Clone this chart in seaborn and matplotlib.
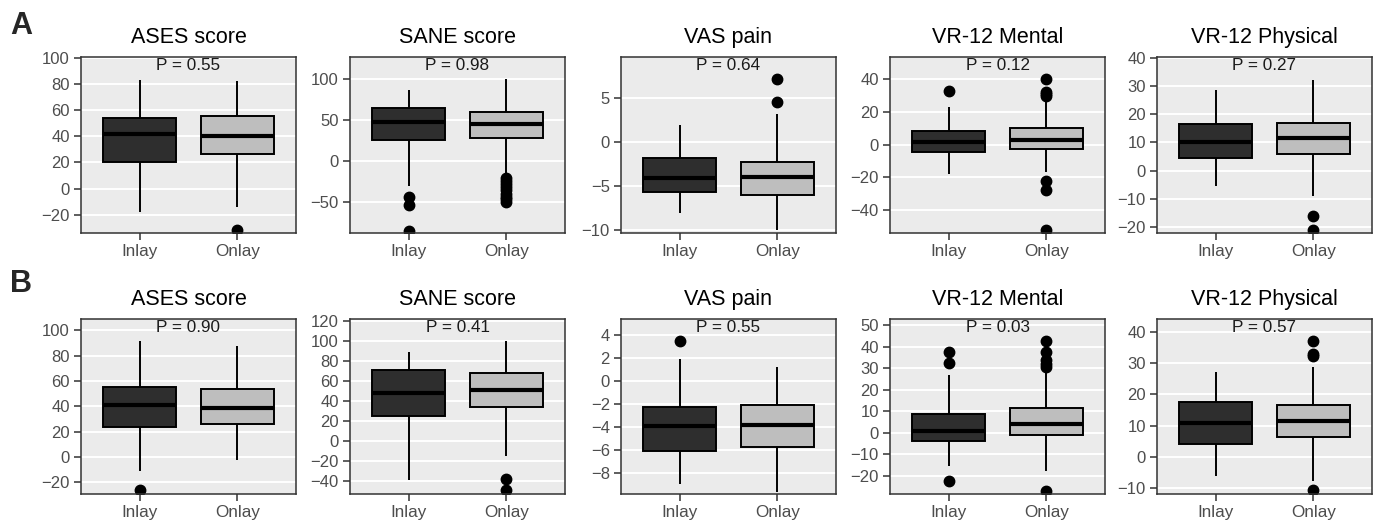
import numpy as np
import pandas as pd
import matplotlib
matplotlib.use("Agg")
import matplotlib.pyplot as plt
import seaborn as sns

# ---------------- data ----------------
metrics = ["ASES score", "SANE score", "VAS pain", "VR-12 Mental", "VR-12 Physical"]
groups = ["Inlay", "Onlay"]
row_labels = ["A", "B"]

# per metric: [Inlay, Onlay]
a_p_values = ["0.55", "0.98", "0.64", "0.12", "0.27"]
a_whisker_low = [[-18, -14], [-30, -17], [-8.0, -10.0], [-18, -17], [-5.5, -9.0]]
a_q1 = [[20, 26.4], [25, 28], [-5.7, -6.0], [-4.5, -2.5], [4.5, 6.0]]
a_median = [[41.5, 40], [47, 45], [-4.1, -4.0], [1.5, 3.0], [10.2, 11.7]]
a_q3 = [[53.6, 55.4], [65, 60], [-1.8, -2.3], [8.5, 10.2], [16.5, 17.0]]
a_whisker_high = [[83, 82.5], [87, 100], [1.9, 3.2], [23, 27], [28.7, 32.2]]
a_outliers = [
    [[], [-32]],
    [[-44, -54, -85], [-21, -24, -28, -32, -36, -40, -44, -47, -50]],
    [[], [4.5, 7.1]],
    [[32.8], [-22, -28, -52, 30, 31, 32, 40]],
    [[], [-16, -21]],
]
a_ylim = [(-34, 100.5), (-88, 127), (-10.3, 9.6), (-54, 53.6), (-22, 40.2)]
a_yticks = [
    [-20, 0, 20, 40, 60, 80, 100],
    [-50, 0, 50, 100],
    [-10, -5, 0, 5],
    [-40, -20, 0, 20, 40],
    [-20, -10, 0, 10, 20, 30, 40],
]

b_p_values = ["0.90", "0.41", "0.55", "0.03", "0.57"]
b_whisker_low = [[-11, -2.6], [-39, -15], [-8.97, -9.6], [-15.4, -17.7], [-6.0, -7.8]]
b_q1 = [[23.8, 25.9], [24.6, 33.6], [-6.05, -5.71], [-3.6, -0.8], [4.3, 6.3]]
b_median = [[40.8, 38.7], [48, 51], [-3.91, -3.83], [0.8, 4.3], [10.8, 11.6]]
b_q3 = [[55.2, 53.9], [71, 67.5], [-2.25, -2.06], [8.8, 11.5], [17.4, 16.6]]
b_whisker_high = [[91.5, 87.3], [88.5, 99.7], [1.94, 1.23], [26.9, 27.7], [27.2, 28.7]]
b_outliers = [
    [[-26.5], []],
    [[], [-38, -49.5]],
    [[3.46], []],
    [[-22.6, 32.6, 37.5], [-26.9, 30.5, 32, 34, 37.5, 42.8]],
    [[], [-10.5, 32.2, 32.8, 37]],
]
b_ylim = [(-29.4, 109), (-53, 121.6), (-9.8, 5.4), (-28.5, 53), (-11.8, 44)]
b_yticks = [
    [-20, 0, 20, 40, 60, 80, 100],
    [-40, -20, 0, 20, 40, 60, 80, 100, 120],
    [-8, -6, -4, -2, 0, 2, 4],
    [-20, -10, 0, 10, 20, 30, 40, 50],
    [-10, 0, 10, 20, 30, 40],
]

group_colors = {"Inlay": "#2E2E2E", "Onlay": "#BEBEBE"}


def sample_from_summary(lo, q1, med, q3, hi, outs):
    """Build a sample whose quartiles / whiskers / outliers equal the read summary."""
    low_out = sorted(v for v in outs if v < q1)
    high_out = sorted(v for v in outs if v > q3)
    m = 1 + max(len(low_out), len(high_out), 1)
    lower = low_out + [lo] + [q1] * (m - 1 - len(low_out))
    upper = [hi] + high_out + [q3] * (m - 1 - len(high_out))
    return lower + [q1] + [med] * (m - 1) + [med] + [q3] * (m - 1) + [q3] + upper


def build_frame(lo_l, q1_l, med_l, q3_l, hi_l, out_l, k):
    rows = []
    for g_i, g in enumerate(groups):
        vals = sample_from_summary(lo_l[k][g_i], q1_l[k][g_i], med_l[k][g_i],
                                   q3_l[k][g_i], hi_l[k][g_i], out_l[k][g_i])
        rows += [(g, v) for v in vals]
    return pd.DataFrame(rows, columns=["group", "value"])


# ---------------- style ----------------
sns.set_theme(style="darkgrid", rc={
    "axes.facecolor": "#EBEBEB",
    "axes.edgecolor": "#333333",
    "grid.color": "white",
    "figure.facecolor": "white",
})
plt.rcParams["font.family"] = ["Liberation Sans", "DejaVu Sans"]

W, H = 1382, 523
fig = plt.figure(figsize=(W / 100, H / 100), dpi=100)

panel_left = [81, 350, 621, 890, 1157]
panel_w = 215
row_top = [57, 319]
row_bot = [233, 494]

rows = [
    (a_whisker_low, a_q1, a_median, a_q3, a_whisker_high, a_outliers, a_p_values, a_ylim, a_yticks),
    (b_whisker_low, b_q1, b_median, b_q3, b_whisker_high, b_outliers, b_p_values, b_ylim, b_yticks),
]

for r, (lo_l, q1_l, med_l, q3_l, hi_l, out_l, pv, ylims, yticks) in enumerate(rows):
    for k, metric in enumerate(metrics):
        rect = [panel_left[k] / W, 1 - row_bot[r] / H, panel_w / W, (row_bot[r] - row_top[r]) / H]
        ax = fig.add_axes(rect)
        df = build_frame(lo_l, q1_l, med_l, q3_l, hi_l, out_l, k)
        sns.boxplot(data=df, x="group", y="value", hue="group", order=groups,
                    hue_order=groups, palette=group_colors, legend=False,
                    width=0.75, linecolor="black", linewidth=1.4, fliersize=7.5,
                    whis=1.5, showcaps=False,
                    medianprops=dict(linewidth=3.0, color="black"),
                    flierprops=dict(marker="o", markerfacecolor="black",
                                    markeredgecolor="black"),
                    ax=ax)
        ax.set_xlim(-0.6, 1.6)
        ax.set_ylim(*ylims[k])
        ax.set_yticks(yticks[k])
        ax.set_xlabel("")
        ax.set_ylabel("")
        ax.grid(axis="y", color="white", linewidth=1.4)
        ax.grid(axis="x", visible=False)
        ax.set_axisbelow(True)
        for s in ax.spines.values():
            s.set_visible(True)
            s.set_color("#333333")
            s.set_linewidth(1.1)
        ax.tick_params(axis="both", which="major", length=5, width=1.1,
                       color="#333333", labelsize=12, labelcolor="#4D4D4D",
                       bottom=True, left=True, pad=3)
        ax.tick_params(axis="x", labelsize=12.3, pad=3)
        ax.set_title(metric, fontsize=15.5, color="black", pad=10)
        ax.text(0.5, 0.95, f"P = {pv[k]}", transform=ax.transAxes,
                ha="center", va="center", fontsize=12.3, color="#1A1A1A")

fig.text(21 / W, 1 - 26 / H, "A", fontsize=22, fontweight="bold",
         ha="center", va="center")
fig.text(21 / W, 1 - 284 / H, "B", fontsize=22, fontweight="bold",
         ha="center", va="center")

fig.savefig("out.png", dpi=100)
